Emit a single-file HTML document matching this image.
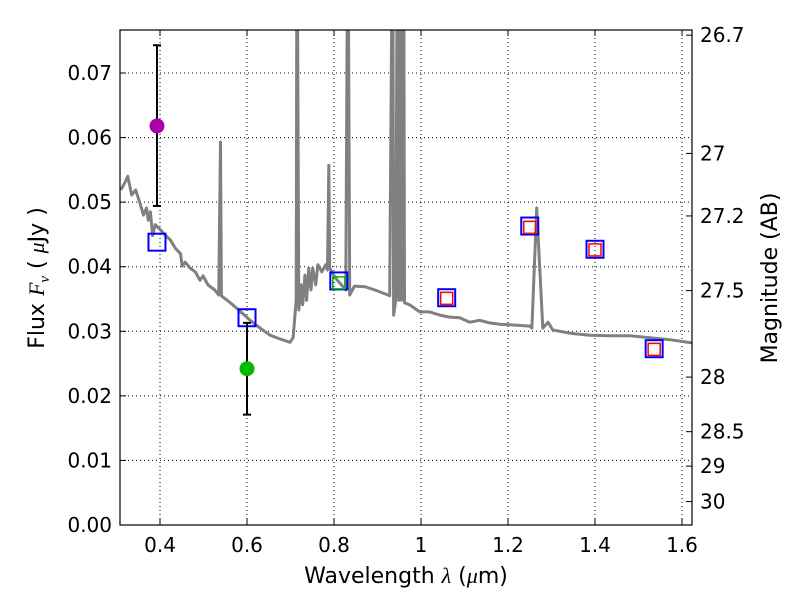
<!DOCTYPE html>
<html><head><meta charset="utf-8"><style>
html,body{margin:0;padding:0;background:#fff}
svg{font-family:"DejaVu Sans","Liberation Sans",sans-serif}
</style></head><body>
<svg id="chart" width="800" height="600" viewBox="0 0 800 600" xmlns="http://www.w3.org/2000/svg">
<rect width="800" height="600" fill="#fff"/>
<g id="grid"></g>
<defs><clipPath id="clip"><rect x="120" y="30" width="572" height="495"/></clipPath></defs>
<g id="plot" clip-path="url(#clip)"></g>
<g id="marks"></g>
<rect x="120" y="30" width="572" height="495" fill="none" stroke="#000" stroke-width="1.2"/>
<g id="axes"></g>
<text x="406" y="583" font-size="22" text-anchor="middle">Wavelength  <tspan font-family="Liberation Serif" font-style="italic">λ</tspan> (<tspan font-family="Liberation Serif" font-style="italic">μ</tspan>m)</text>
<text transform="translate(44,278) rotate(-90)" font-size="22" text-anchor="middle">Flux  <tspan font-family="Liberation Serif" font-style="italic">F</tspan><tspan font-family="Liberation Serif" font-style="italic" font-size="15" dy="5">ν</tspan><tspan dy="-5">  ( </tspan><tspan font-family="Liberation Serif" font-style="italic">μ</tspan>Jy )</text>
<text transform="translate(777,278) rotate(-90)" font-size="22" text-anchor="middle">Magnitude (AB)</text>
</svg>
<script>
const xTicks=[0.4,0.6,0.8,1.0,1.2,1.4,1.6];
const xTickLabels=["0.4","0.6","0.8","1","1.2","1.4","1.6"];
const yTicks=[0,0.01,0.02,0.03,0.04,0.05,0.06,0.07];
const yTickLabels=["0.00","0.01","0.02","0.03","0.04","0.05","0.06","0.07"];
const magTicks=[26.7,27,27.2,27.5,28,28.5,29,30];
const magTickLabels=["26.7","27","27.2","27.5","28","28.5","29","30"];
const specWave=[0.310,0.319,0.326,0.335,0.344,0.355,0.362,0.369,0.373,0.378,0.383,0.389,0.401,0.412,0.424,0.435,0.447,0.451,0.458,0.469,0.481,0.492,0.499,0.510,0.526,0.535,0.539,0.541,0.562,0.584,0.607,0.630,0.653,0.676,0.699,0.706,0.713,0.715,0.719,0.724,0.728,0.733,0.737,0.742,0.747,0.751,0.758,0.763,0.772,0.781,0.785,0.788,0.790,0.799,0.808,0.817,0.827,0.832,0.836,0.847,0.871,0.894,0.917,0.928,0.935,0.937,0.942,0.946,0.949,0.953,0.955,0.960,0.962,0.974,0.997,1.020,1.043,1.066,1.089,1.112,1.135,1.158,1.181,1.204,1.250,1.255,1.266,1.280,1.292,1.303,1.342,1.388,1.434,1.480,1.526,1.572,1.623];
const specFlux=[0.0519,0.0530,0.0540,0.0511,0.0519,0.0496,0.0480,0.0491,0.0472,0.0485,0.0448,0.0465,0.0457,0.0449,0.0441,0.0429,0.0420,0.0401,0.0407,0.0398,0.0392,0.0379,0.0386,0.0372,0.0364,0.0356,0.0593,0.0355,0.0344,0.0331,0.0317,0.0305,0.0294,0.0288,0.0283,0.0290,0.0348,0.1,0.0333,0.0372,0.0341,0.0387,0.0348,0.0398,0.0364,0.0398,0.0372,0.0403,0.0392,0.0403,0.0395,0.0557,0.0398,0.0387,0.0379,0.0372,0.0364,0.1,0.0356,0.0370,0.0369,0.0364,0.0358,0.0355,0.1,0.0325,0.0348,0.1,0.0348,0.1,0.0348,0.1,0.0344,0.0341,0.0330,0.0330,0.0325,0.0322,0.0321,0.0314,0.0317,0.0313,0.0311,0.0310,0.0308,0.0305,0.0491,0.0305,0.0314,0.0302,0.0297,0.0294,0.0293,0.0293,0.0290,0.0287,0.0282];
const modelWave=[0.393,0.600,0.811,1.059,1.250,1.400,1.536];
const modelFlux=[0.0438,0.0321,0.0378,0.0352,0.0463,0.0427,0.0273];
const redWave=[1.059,1.250,1.400,1.536];
const redFlux=[0.0351,0.0461,0.0426,0.0272];
const greenSqWave=[0.811];
const greenSqFlux=[0.0375];
const obsWave=[0.393,0.600];
const obsFlux=[0.0618,0.0242];
const obsErrUp=[0.0125,0.0071];
const obsErrDn=[0.0124,0.0071];
const obsColor=["#aa00aa","#00bb00"];

const X0=120,X1=692,Y0=525,Y1=30,xmin=0.308,xmax=1.623,ymin=0,ymax=0.07666;
const sx=v=>X0+(v-xmin)/(xmax-xmin)*(X1-X0);
const sy=v=>Y0-(v-ymin)/(ymax-ymin)*(Y0-Y1);
const smag=m=>sy(Math.pow(10,(23.9-m)/2.5));
const NS="http://www.w3.org/2000/svg";
function mk(tag,parent,attrs){const e=document.createElementNS(NS,tag);for(const k in attrs)e.setAttribute(k,attrs[k]);parent.appendChild(e);return e;}
const grid=document.getElementById('grid'),plot=document.getElementById('plot'),marks=document.getElementById('marks'),axes=document.getElementById('axes');
xTicks.forEach((t,i)=>{const x=sx(t);
 const g=mk('line',grid,{x1:x,x2:x,y1:Y1,y2:Y0,stroke:'#000','stroke-width':1,'stroke-dasharray':'1,3'});
 
 
 mk('line',axes,{x1:x,x2:x,y1:Y0,y2:Y0-6,stroke:'#000'});mk('line',axes,{x1:x,x2:x,y1:Y1,y2:Y1+6,stroke:'#000'});
 const tx=mk('text',axes,{x:x,y:Y0+27,'font-size':20,'text-anchor':'middle'});tx.textContent=xTickLabels[i];
 
 
});
yTicks.forEach((t,i)=>{const y=sy(t);
 const g=mk('line',grid,{x1:X0,x2:X1,y1:y,y2:y,stroke:'#000','stroke-width':1,'stroke-dasharray':'1,3'});
 
 
 mk('line',axes,{x1:X0,x2:X0+6,y1:y,y2:y,stroke:'#000'});
 const tx=mk('text',axes,{x:X0-8,y:y+7,'font-size':20,'text-anchor':'end'});tx.textContent=yTickLabels[i];
 
 
});
magTicks.forEach((m,i)=>{const y=smag(m);
 mk('line',axes,{x1:X1,x2:X1-6,y1:y,y2:y,stroke:'#000'});
 const tx=mk('text',axes,{x:X1+8,y:y+7,'font-size':20,'text-anchor':'start'});tx.textContent=magTickLabels[i];
 
 
});
const pts=specWave.map((w,i)=>sx(w).toFixed(1)+','+sy(specFlux[i]).toFixed(1)).join(' ');
const sp=mk('polyline',plot,{points:pts,fill:'none',stroke:'#808080','stroke-width':3,'stroke-linejoin':'round'});


modelWave.forEach((w,i)=>{const x=sx(w),y=sy(modelFlux[i]);
 const r=mk('rect',marks,{x:x-8.5,y:y-8.5,width:17,height:17,fill:'none',stroke:'#0000ff','stroke-width':2});
 
 
});
redWave.forEach((w,i)=>{const x=sx(w),y=sy(redFlux[i]);
 const r=mk('rect',marks,{x:x-6,y:y-6,width:12,height:12,fill:'none',stroke:'#ff0000','stroke-width':1.5});
 
 
});
greenSqWave.forEach((w,i)=>{const x=sx(w),y=sy(greenSqFlux[i]);
 const r=mk('rect',marks,{x:x-6,y:y-6,width:12,height:12,fill:'none',stroke:'#00bb00','stroke-width':1.5});
 
 
});
obsWave.forEach((w,i)=>{const x=sx(w),y=sy(obsFlux[i]),yu=sy(obsFlux[i]+obsErrUp[i]),yd=sy(obsFlux[i]-obsErrDn[i]);
 const e=mk('path',marks,{d:`M${x},${yu}V${yd}M${x-4},${yu}H${x+4}M${x-4},${yd}H${x+4}`,stroke:'#000','stroke-width':2,fill:'none'});
 
 
 const c=mk('circle',marks,{cx:x,cy:y,r:7.5,fill:obsColor[i]});
 
 
});
</script>
</body></html>
